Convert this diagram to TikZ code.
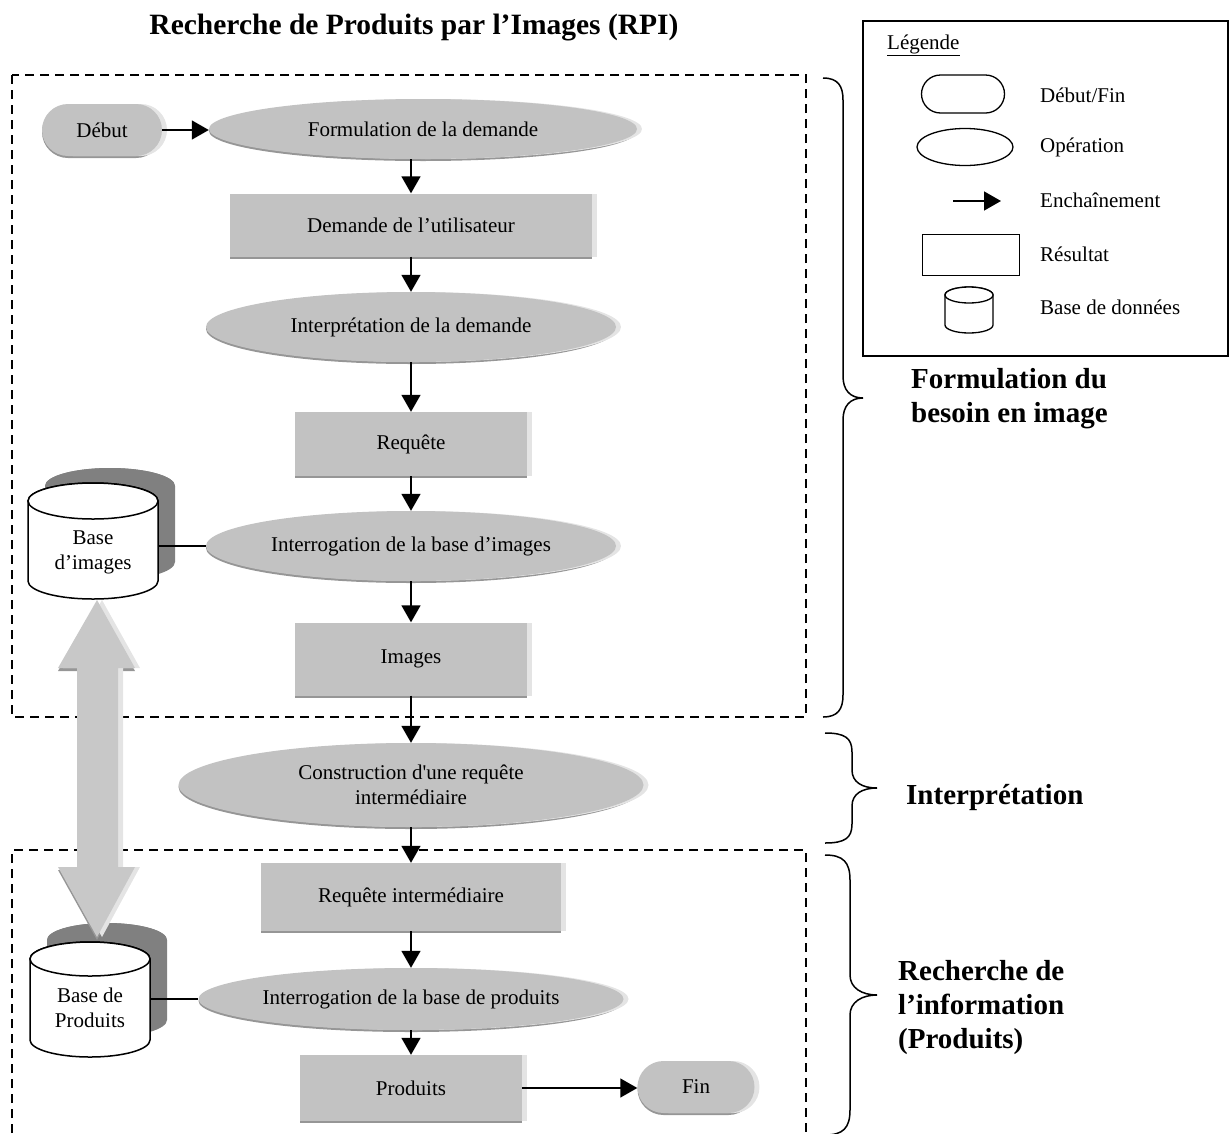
\documentclass[tikz,border=0pt]{standalone}
\usepackage{fontspec}
\setmainfont{Liberation Serif}
\usetikzlibrary{arrows.meta,shapes.geometric,shadows}
\definecolor{fillgray}{RGB}{194,194,194}
\definecolor{bevdark}{RGB}{150,150,150}
\definecolor{bevlight}{RGB}{228,228,228}
\definecolor{cylshade}{RGB}{128,128,128}
\definecolor{arrgray}{RGB}{200,200,200}
\newcommand\fsn{\fontsize{21}{25}\selectfont}
\newcommand\fsb{\fontsize{29}{34}\selectfont\bfseries}
\newcommand\fst{\fontsize{29.5}{34}\selectfont\bfseries}
% cylinder: #1 cx, #2 top y, #3 bottom y, #4 rx, #5 ry, #6 style
\newcommand\cylpath[6]{%
  \path[#6] ({#1-#4},#2) -- ({#1-#4},#3)
    arc[start angle=180,end angle=360,x radius=#4pt,y radius=#5pt]
    -- ({#1+#4},#2)
    arc[start angle=0,end angle=180,x radius=#4pt,y radius=#5pt] -- cycle;
  \path[#6] (#1,#2) ellipse[x radius=#4pt,y radius=#5pt];}
\begin{document}
\begin{tikzpicture}[x=1pt,y=-1pt,
  base/.style={fill=fillgray, inner sep=0pt, font=\fsn, align=center},
  bevel/.style={general shadow={fill=bevdark, shadow yshift=-2pt},
                general shadow={fill=bevlight, shadow xshift=5pt}},
  res/.style={base, bevel, rectangle},
  op/.style={base, bevel, ellipse},
  term/.style={base, bevel, rectangle, rounded corners=26pt},
  arr/.style={line width=1.5pt, -{Triangle[length=17pt,width=19pt]}},
  link/.style={line width=1.5pt},
  frame/.style={line width=1.5pt, dash pattern=on 9pt off 6pt},
  bracepath/.style={line width=1.5pt},
  lab/.style={font=\fsb, align=left, anchor=west, inner sep=0pt},
  legtxt/.style={font=\fsn, anchor=west, inner sep=0pt},
  legshape/.style={draw, line width=1.3pt, inner sep=0pt},
  cylfront/.style={fill=white, draw=black, line width=1.5pt},
  cylback/.style={fill=cylshade},
  cyllegend/.style={fill=white, draw=black, line width=1.3pt}]
\useasboundingbox (0,0) rectangle (1229,1133);

% title
\node[font=\fst, inner sep=0pt] (title) at (414,28) {Recherche de Produits par l’Images (RPI)};

% dashed frames
\draw[frame] (12,75) rectangle (806,717);
\draw[frame] (12,1133) -- (12,850) -- (806,850) -- (806,1133);

% flow nodes
\node[term, minimum width=120pt, minimum height=52pt] (debut) at (102,130) {Début};
\node[op, minimum width=428pt, minimum height=60pt] (form) at (423,129) {Formulation de la demande};
\node[res, minimum width=362pt, minimum height=63pt] (dem) at (411,225) {Demande de l’utilisateur};
\node[op, minimum width=410pt, minimum height=70pt] (interp) at (411,327) {Interprétation de la demande};
\node[res, minimum width=232pt, minimum height=64pt] (req) at (411,444) {Requête};
\node[op, minimum width=410pt, minimum height=70pt] (intimg) at (411,546) {Interrogation de la base d’images};
\node[res, minimum width=232pt, minimum height=73pt] (images) at (411,659) {Images};
\node[op, minimum width=465pt, minimum height=84pt] (constr) at (411,785) {Construction d\textquotesingle une requête\\intermédiaire};
\node[res, minimum width=300pt, minimum height=68pt] (reqint) at (411,897) {Requête intermédiaire};
\node[op, minimum width=425pt, minimum height=62pt] (intprod) at (411,999) {Interrogation de la base de produits};
\node[res, minimum width=222pt, minimum height=66pt] (produits) at (411,1088) {Produits};
\node[term, minimum width=117pt, minimum height=52pt] (fin) at (696,1087) {Fin};

% arrows
\draw[arr] (debut.east) -- (debut.east -| form.west);
\draw[arr] (dem.north |- form.south) -- (dem.north);
\draw[arr] (dem.south) -- (interp.north);
\draw[arr] (interp.south) -- (req.north);
\draw[arr] (req.south) -- (intimg.north);
\draw[arr] (intimg.south) -- (images.north);
\draw[arr] (images.south) -- (constr.north);
\draw[arr] (constr.south) -- (reqint.north);
\draw[arr] (reqint.south) -- (intprod.north);
\draw[arr] (intprod.south) -- (produits.north);
\draw[arr] (produits.east) -- (produits.east -| fin.west);

% databases (shadows)
\cylpath{110}{486}{562}{65}{18}{cylback}
\cylpath{107}{940}{1020}{60}{17}{cylback}

% double block arrow between databases
\path[fill=bevdark] (97,603) -- (135,671) -- (118,671) -- (118,870) -- (135,870) -- (97,940) -- (58,870) -- (77,870) -- (77,671) -- (58,671) -- cycle;
\path[fill=bevlight] (102,600) -- (140,668) -- (123,668) -- (123,867) -- (140,867) -- (102,937) -- (63,867) -- (82,867) -- (82,668) -- (63,668) -- cycle;
\path[fill=arrgray] (97,600) -- (135,668) -- (118,668) -- (118,867) -- (135,867) -- (97,937) -- (58,867) -- (77,867) -- (77,668) -- (58,668) -- cycle;

% databases (front)
\cylpath{93}{501}{581}{65}{18}{cylfront}
\cylpath{90}{959}{1040}{60}{17}{cylfront}
\node[font=\fsn, align=center, inner sep=0pt, minimum width=130pt, minimum height=116pt] (bdi) at (93,552) {Base\\d’images};
\node[font=\fsn, align=center, inner sep=0pt, minimum width=120pt, minimum height=115pt] (bdp) at (90,1008) {Base de\\Produits};
\draw[link] (intimg.west -| bdi.east) -- (intimg.west);
\draw[link] (intprod.west -| bdp.east) -- (intprod.west);

% braces
\draw[bracepath] (823,78) .. controls (838,78) and (843,86) .. (843,100) -- (843,376)
  .. controls (843,390) and (850,398) .. (863,398)
  .. controls (850,398) and (843,406) .. (843,420) -- (843,695)
  .. controls (843,709) and (838,717) .. (823,717);
\draw[bracepath] (825,733) .. controls (845,733) and (852,738) .. (852,752) -- (852,770)
  .. controls (852,782) and (862,788) .. (877,788)
  .. controls (862,788) and (852,794) .. (852,806) -- (852,824)
  .. controls (852,838) and (845,843) .. (825,843);
\draw[bracepath] (825,855) .. controls (843,855) and (850,862) .. (850,880) -- (850,975)
  .. controls (850,988) and (862,995) .. (877,995)
  .. controls (862,995) and (850,1002) .. (850,1015) -- (850,1110)
  .. controls (850,1128) and (843,1135) .. (825,1135);

% brace labels
\node[lab] (lbl1) at (911,399) {Formulation du\\besoin en image};
\node[lab] (lbl2) at (906,797) {Interprétation};
\node[lab] (lbl3) at (898,1008) {Recherche de\\l’information\\(Produits)};

% legend
\draw[line width=1.3pt] (863,21) rectangle (1228,356);
\node[legtxt] (legt) at (887,45) {\underline{Légende}};
\node[legshape, rounded corners=19pt, minimum width=83pt, minimum height=38pt] (lg1) at (963,94) {};
\node[legtxt] (lt1) at (1040,95) {Début/Fin};
\node[legshape, ellipse, minimum width=96pt, minimum height=37pt] (lg2) at (965,147) {};
\node[legtxt] (lt2) at (1040,147) {Opération};
\coordinate (la1) at (953,201);
\coordinate (la2) at (1001,201);
\draw[arr] (la1) -- (la2);
\node[legtxt] (lt3) at (1040,200) {Enchaînement};
\node[legshape, minimum width=97pt, minimum height=41pt] (lg4) at (971,255) {};
\node[legtxt] (lt4) at (1040,254) {Résultat};
\cylpath{969}{295}{325}{24}{8}{cyllegend}
\node[legtxt] (lt5) at (1040,307) {Base de données};
\end{tikzpicture}
\end{document}
